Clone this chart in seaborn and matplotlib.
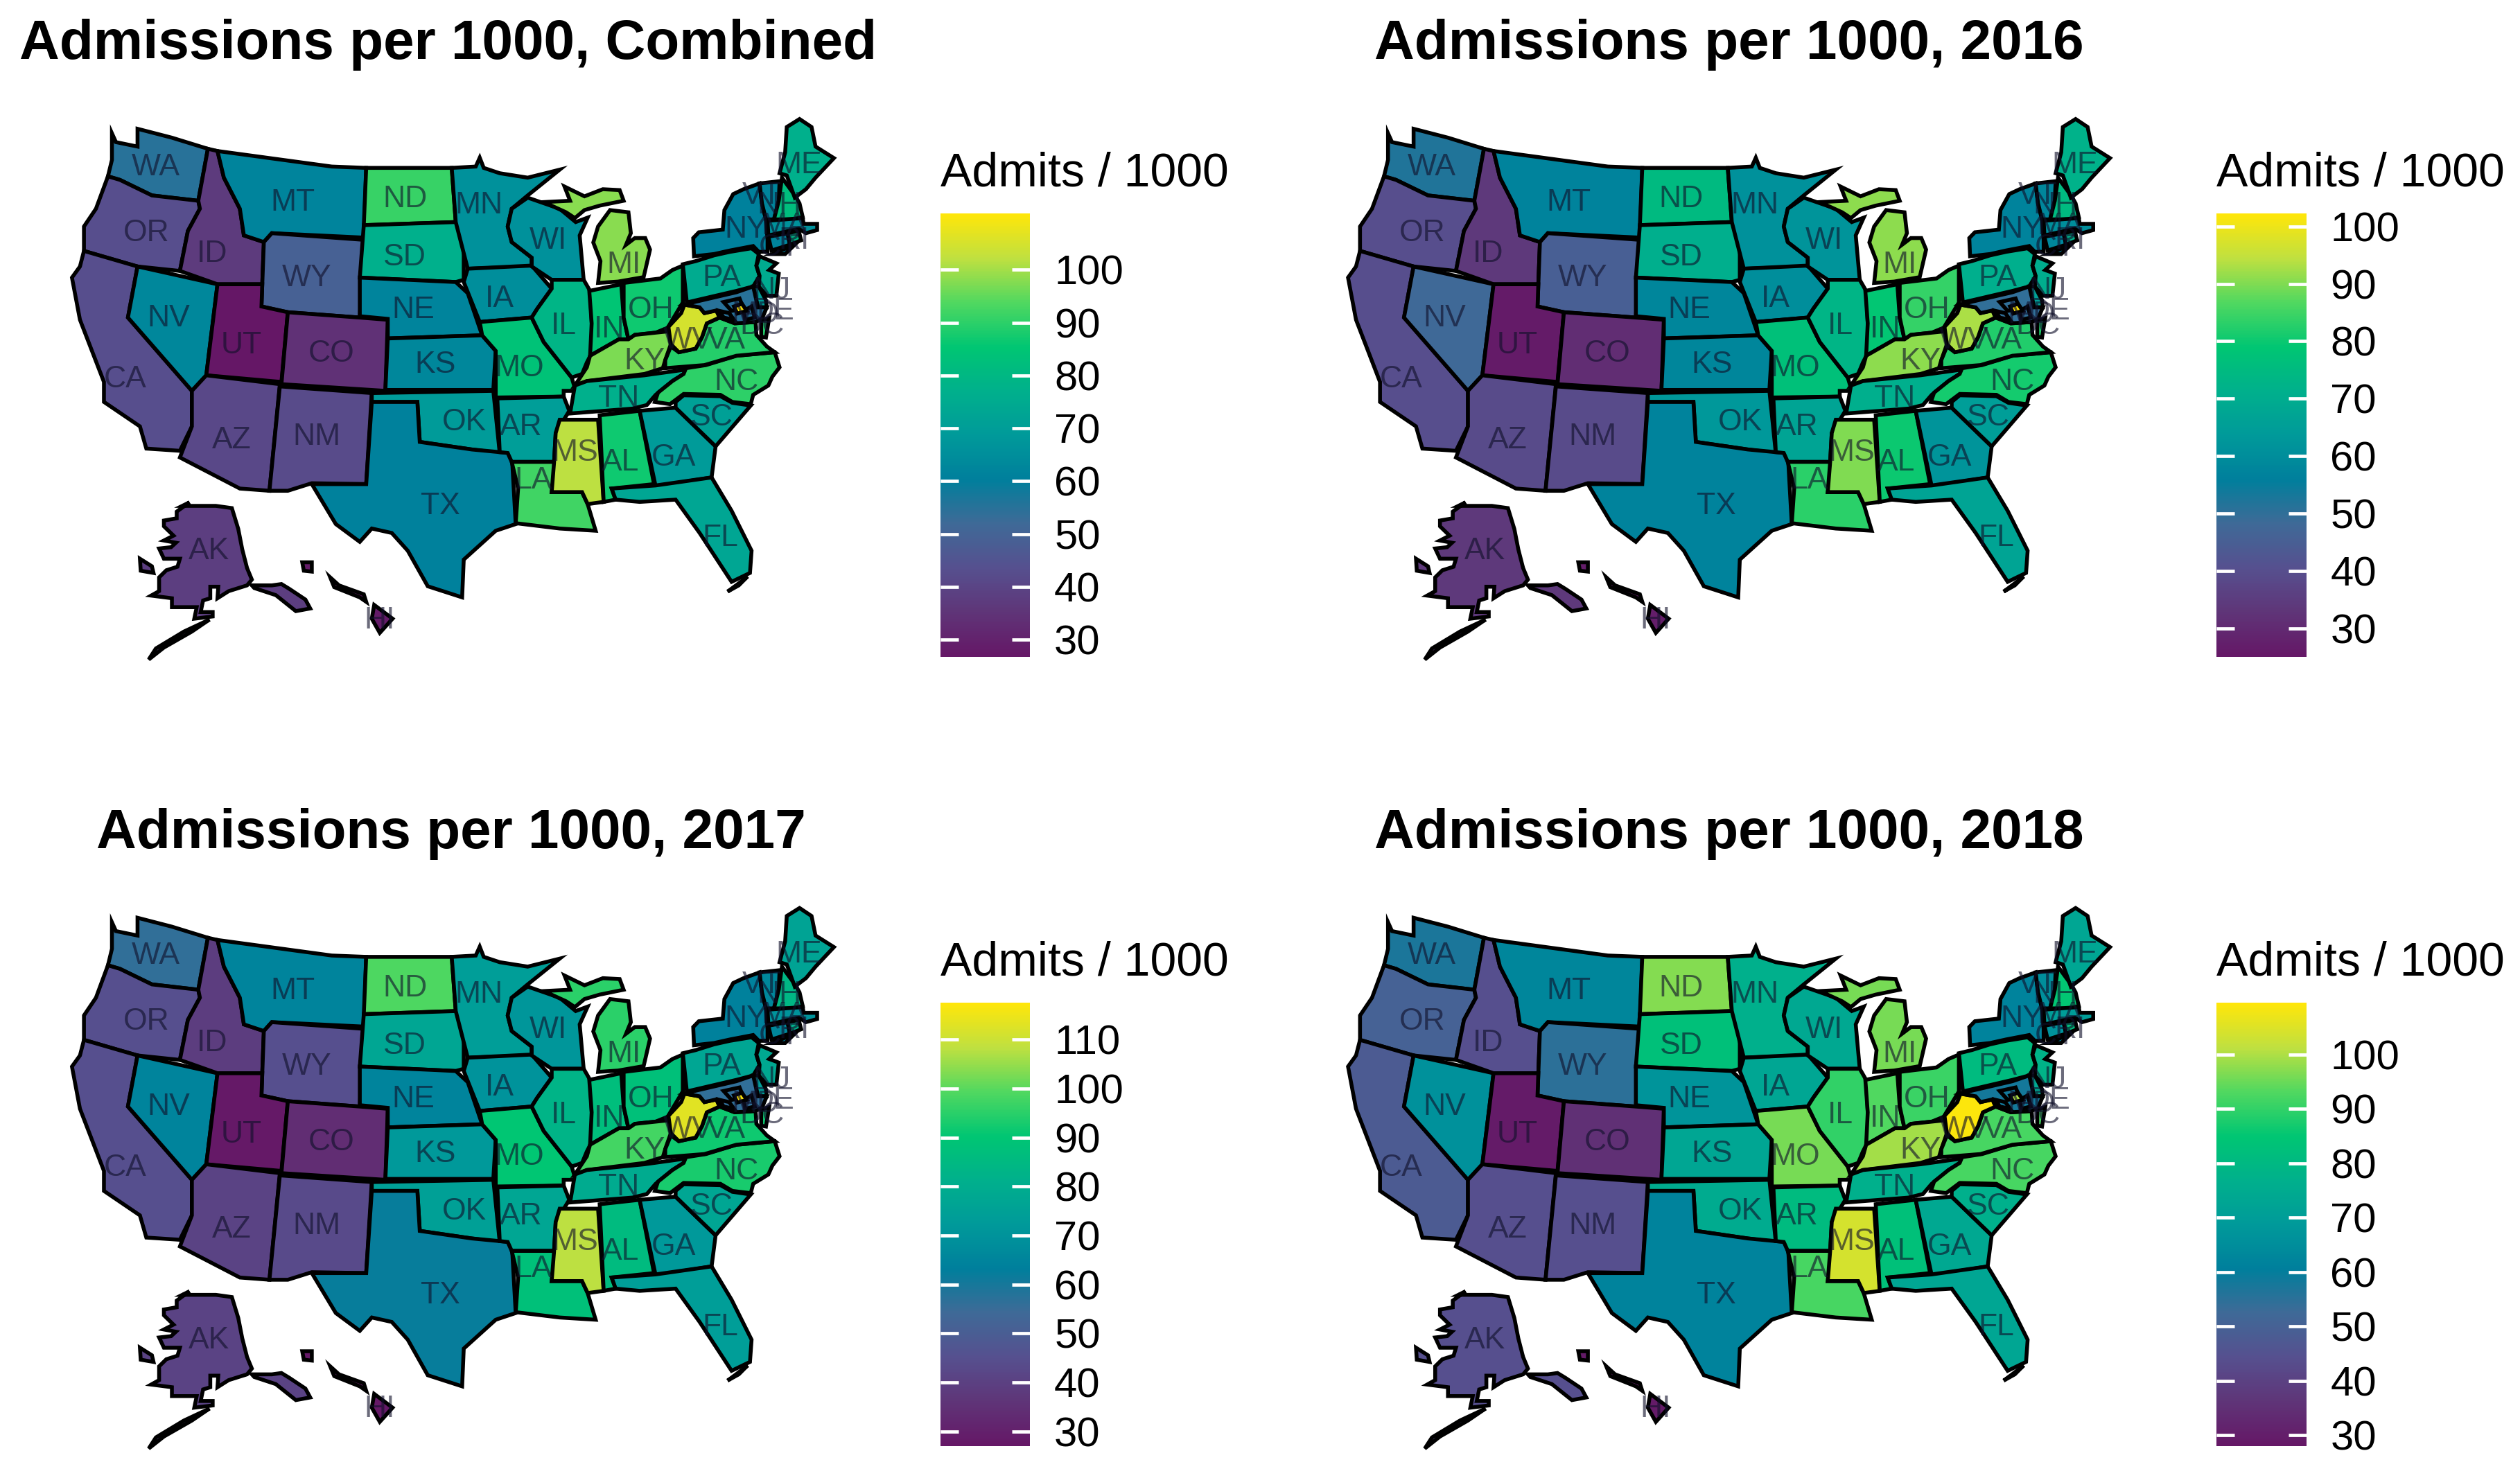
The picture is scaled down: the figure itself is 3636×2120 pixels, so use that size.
import numpy as np
import pandas as pd
import matplotlib
matplotlib.use("Agg")
import matplotlib.pyplot as plt
from matplotlib.cm import ScalarMappable
from matplotlib.colors import Normalize
import seaborn as sns

# state values
STATES = ["WA", "OR", "CA", "NV", "ID", "MT", "WY", "UT", "CO", "AZ", "NM", "ND", "SD", "NE", "KS", "OK", "TX",
          "MN", "IA", "MO", "AR", "LA", "WI", "IL", "IN", "MI", "OH", "KY", "TN", "MS", "AL", "GA", "FL", "SC",
          "NC", "VA", "WV", "PA", "NY", "VT", "NH", "ME", "MA", "CT", "RI", "NJ", "DE", "MD", "DC", "AK", "HI"]
combined = [55, 43, 43, 63, 37, 62, 49, 27, 34, 41, 42, 91, 77, 62, 63, 69, 61,
            66, 65, 84, 70, 92, 66, 79, 85, 98, 87, 97, 77, 102, 87, 69, 73, 71,
            90, 89, 105, 75, 61, 62, 82, 77, 66, 62, 80, 75, 70, 55, 110, 38, 28]
y2016 = [52, 40, 40, 48, 34, 57, 45, 26, 31, 39, 39, 75, 71, 58, 58, 63, 57,
         61, 60, 77, 67, 83, 62, 73, 79, 91, 84, 91, 71, 90, 80, 62, 67, 65,
         81, 82, 93, 71, 57, 58, 75, 72, 60, 58, 72, 70, 66, 50, 102, 34, 27]
y2017 = [56, 45, 45, 65, 39, 65, 45, 28, 34, 41, 43, 99, 77, 65, 72, 75, 62,
         74, 70, 90, 77, 88, 71, 83, 87, 95, 88, 98, 79, 108, 86, 72, 74, 77,
         93, 92, 113, 77, 64, 66, 84, 76, 70, 66, 82, 78, 74, 56, 117, 41, 28]
y2018 = [57, 50, 48, 66, 44, 63, 55, 29, 35, 44, 44, 97, 83, 67, 73, 75, 62,
         77, 73, 96, 81, 92, 74, 90, 93, 96, 91, 99, 77, 104, 83, 74, 73, 77,
         92, 92, 109, 81, 62, 65, 85, 73, 70, 66, 82, 78, 74, 58, 100, 44, 29]

titles = ["Admissions per 1000, Combined", "Admissions per 1000, 2016",
          "Admissions per 1000, 2017", "Admissions per 1000, 2018"]
title_x = [12, 855, 60, 855]
ticks = [[30, 40, 50, 60, 70, 80, 90, 100],
         [30, 40, 50, 60, 70, 80, 90, 100],
         [30, 40, 50, 60, 70, 80, 90, 100, 110],
         [30, 40, 50, 60, 70, 80, 90, 100]]
ranges = [(26.7, 110.6), (25.0, 102.2), (27.0, 117.5), (28.0, 109.5)]

# colours of the legend bar, low to high
ramp = ["#651766", "#5f3578", "#56508f", "#3f6a97", "#007f9c", "#009a9a",
        "#00b08c", "#00c673", "#50d860", "#bfe040", "#ffe60a"]

# state outlines, hand traced (map units)
OUTLINES = {
    "WA": [[(140, 300), (145, 320), (172, 330), (172, 290), (215, 310), (260, 335), (248, 452), (190, 440),
            (150, 405), (135, 397), (140, 360)]],
    "OR": [[(135, 397), (150, 405), (190, 440), (248, 452), (250, 470), (235, 520), (225, 610), (172, 600),
            (105, 565), (105, 510), (120, 470)]],
    "CA": [[(105, 565), (172, 600), (160, 715), (240, 880), (240, 960), (225, 1015), (183, 1010), (175, 960),
            (130, 905), (130, 860), (100, 720), (90, 625), (100, 600)]],
    "NV": [[(172, 600), (272, 640), (258, 845), (240, 880), (160, 715)]],
    "ID": [[(260, 335), (272, 340), (280, 400), (300, 470), (305, 530), (330, 545), (328, 640), (272, 640),
            (225, 610), (235, 520), (250, 470), (248, 452)]],
    "MT": [[(272, 340), (415, 375), (458, 378), (455, 535), (340, 525), (330, 545), (305, 530), (300, 470),
            (280, 400)]],
    "WY": [[(340, 525), (455, 540), (450, 715), (360, 703), (327, 690), (330, 545)]],
    "UT": [[(272, 640), (328, 640), (327, 690), (360, 703), (352, 860), (258, 845)]],
    "CO": [[(360, 703), (450, 715), (485, 720), (482, 880), (352, 865)]],
    "AZ": [[(258, 845), (350, 865), (337, 1105), (300, 1100), (225, 1030), (240, 960), (240, 880)]],
    "NM": [[(350, 870), (465, 885), (458, 1090), (390, 1088), (360, 1105), (337, 1105)]],
    "ND": [[(458, 378), (565, 378), (570, 500), (455, 507)]],
    "SD": [[(455, 507), (570, 500), (580, 525), (580, 630), (570, 635), (450, 625)]],
    "NE": [[(450, 625), (570, 635), (585, 660), (603, 755), (485, 762), (485, 718), (450, 712)]],
    "KS": [[(485, 762), (603, 755), (620, 790), (617, 878), (482, 878)]],
    "OK": [[(465, 885), (617, 880), (625, 1020), (590, 1012), (525, 995), (522, 905), (465, 905)]],
    "TX": [[(465, 905), (522, 905), (525, 995), (590, 1012), (625, 1018), (640, 1020), (645, 1180), (620, 1195),
            (580, 1260), (578, 1345), (535, 1320), (510, 1240), (490, 1200), (465, 1190), (450, 1220), (420, 1180),
            (390, 1090), (458, 1090)]],
    "MN": [[(565, 378), (595, 375), (600, 355), (605, 378), (625, 390), (660, 400), (700, 382), (660, 440),
            (640, 470), (635, 510), (640, 545), (665, 580), (665, 600), (585, 605), (570, 500)]],
    "IA": [[(585, 605), (665, 598), (690, 650), (672, 695), (665, 715), (600, 725), (580, 635)]],
    "MO": [[(600, 725), (665, 715), (680, 770), (715, 850), (720, 880), (705, 880), (705, 893), (620, 895),
            (620, 790), (603, 755)]],
    "AR": [[(622, 897), (705, 893), (712, 925), (695, 975), (693, 1040), (640, 1040), (635, 1020), (625, 1018)]],
    "LA": [[(640, 1040), (695, 1040), (690, 1108), (728, 1108), (735, 1135), (745, 1195), (700, 1190), (645, 1178),
            (648, 1100)]],
    "WI": [[(640, 470), (660, 445), (700, 470), (720, 500), (735, 490), (725, 530), (730, 630), (690, 630),
            (665, 600), (665, 580), (640, 545), (635, 510)]],
    "IL": [[(690, 630), (730, 630), (738, 655), (740, 728), (740, 795), (734, 816), (728, 842), (715, 850),
            (680, 770), (665, 715), (672, 695), (690, 650)]],
    "MI": [[(680, 455), (713, 452), (706, 420), (731, 442), (754, 426), (775, 428), (780, 452), (750, 463), (731, 473),
            (719, 491), (708, 478)],
           [(748, 637), (751, 588), (742, 546), (748, 510), (763, 473), (786, 478), (789, 525), (783, 551),
            (794, 536), (807, 536), (813, 562), (805, 624), (773, 634)]],
    "IN": [[(737, 655), (777, 640), (780, 715), (786, 764), (774, 764), (738, 801), (740, 728)]],
    "OH": [[(780, 637), (826, 627), (841, 608), (854, 598), (854, 681), (835, 738), (820, 749), (794, 754),
            (786, 764), (780, 715)]],
    "KY": [[(738, 801), (774, 764), (786, 764), (794, 754), (820, 749), (836, 746), (839, 775), (832, 811),
            (829, 829), (806, 842), (734, 858), (719, 868), (734, 827)]],
    "TN": [[(719, 868), (734, 858), (806, 845), (858, 832), (855, 842), (841, 858), (820, 889), (809, 912),
            (791, 920), (713, 931)]],
    "MS": [[(700, 945), (748, 945), (755, 1130), (735, 1135), (728, 1108), (690, 1108), (693, 1040), (695, 975)]],
    "AL": [[(750, 935), (800, 925), (818, 1090), (765, 1100), (770, 1125), (755, 1130)]],
    "GA": [[(800, 925), (845, 918), (895, 1005), (890, 1075), (820, 1095)]],
    "FL": [[(765, 1100), (820, 1093), (890, 1075), (915, 1150), (940, 1240), (938, 1290), (915, 1310), (875, 1200),
            (845, 1125), (800, 1130), (770, 1125)],
           [(935, 1298), (924, 1318), (910, 1332), (922, 1316)]],
    "SC": [[(845, 905), (855, 890), (901, 892), (916, 907), (939, 913), (895, 1005), (845, 918)]],
    "NC": [[(883, 822), (921, 801), (969, 793), (975, 827), (966, 848), (961, 868), (942, 889), (939, 910),
            (916, 905), (901, 889), (855, 887), (838, 910), (819, 905), (823, 884), (841, 858), (855, 842),
            (858, 829)]],
    "VA": [[(839, 780), (849, 793), (870, 785), (878, 759), (884, 728), (900, 715), (919, 728), (945, 725),
            (946, 754), (959, 780), (969, 793), (921, 801), (881, 822), (832, 829), (832, 811)],
           [(952, 722), (962, 716), (958, 760), (952, 758)]],
    "WV": [[(856, 686), (875, 692), (881, 705), (896, 699), (900, 715), (884, 728), (878, 759), (870, 785),
            (849, 793), (839, 775), (836, 736), (852, 705)]],
    "PA": [[(854, 595), (870, 588), (893, 575), (913, 567), (940, 559), (949, 572), (946, 598), (950, 621),
            (942, 645), (921, 655), (859, 681)]],
    "NY": [[(868, 577), (867, 536), (874, 523), (904, 517), (906, 473), (917, 437), (930, 426), (950, 413),
            (953, 458), (958, 494), (960, 541), (960, 567), (949, 567), (942, 554), (913, 564), (893, 572)],
           [(966, 572), (994, 551), (982, 572)]],
    "VT": [[(950, 413), (975, 408), (974, 452), (968, 494), (958, 494), (953, 458)]],
    "NH": [[(978, 400), (995, 442), (1000, 458), (1004, 489), (991, 494), (968, 494), (974, 452)]],
    "ME": [[(1000, 268), (984, 286), (982, 343), (975, 390), (984, 395), (994, 445), (1008, 426), (1020, 400),
            (1043, 356), (1020, 330), (1015, 286)]],
    "MA": [[(960, 497), (1004, 491), (1005, 504), (1022, 504), (1022, 518), (1008, 525), (999, 515), (961, 530)]],
    "CT": [[(961, 533), (985, 525), (988, 551), (965, 564)]],
    "RI": [[(985, 525), (999, 520), (1002, 541), (988, 551)]],
    "NJ": [[(950, 577), (971, 593), (962, 608), (974, 616), (971, 666), (959, 666), (949, 645), (950, 621),
            (946, 598)]],
    "DE": [[(942, 645), (949, 645), (958, 676), (959, 692), (948, 692)]],
    "MD": [[(859, 684), (921, 658), (942, 645), (948, 692), (959, 692), (953, 718), (945, 725), (919, 728),
            (900, 715), (896, 699), (881, 705), (875, 692), (856, 686)],
           [(905, 680), (925, 672), (930, 695), (915, 700)],
           [(930, 700), (940, 690), (944, 715), (932, 720)],
           [(900, 700), (912, 705), (918, 720), (905, 715)]],
    "DC": [[(918, 690), (928, 684), (934, 700), (922, 706)]],
    "AK": [[(237, 1131), (228, 1139), (270, 1139), (290, 1144), (298, 1191), (303, 1237), (309, 1279), (315, 1305),
            (309, 1318), (286, 1331), (272, 1347), (273, 1321), (263, 1321), (263, 1347), (254, 1352), (251, 1378),
            (266, 1378), (266, 1388), (243, 1393), (246, 1367), (215, 1367), (215, 1347), (189, 1341), (199, 1331),
            (199, 1300), (208, 1284), (222, 1276), (225, 1258), (205, 1258), (199, 1235), (214, 1232), (220, 1222),
            (205, 1217), (217, 1206), (205, 1185), (205, 1172), (221, 1167), (221, 1152)],
           [(262, 1395), (230, 1422), (195, 1460), (186, 1485), (205, 1458), (240, 1422)],
           [(315, 1318), (340, 1318), (352, 1315), (362, 1326), (382, 1350), (388, 1370), (370, 1376), (345, 1340),
            (318, 1324)],
           [(175, 1258), (190, 1275), (192, 1290), (176, 1285)]],
    "HI": [[(468, 1362), (491, 1393), (475, 1425), (465, 1393)],
           [(413, 1300), (424, 1318), (455, 1338), (458, 1355), (450, 1345), (418, 1322)],
           [(378, 1266), (390, 1266), (390, 1287), (380, 1285)]],
}
OUTLINE_TO_MAP = (0.4975, 0.2764)

# label anchors, same map as the first panel
LABELS = {"WA": (97, 104), "OR": (91, 145), "CA": (78, 236), "NV": (105, 198), "ID": (132, 158), "MT": (182, 126),
          "WY": (191, 173), "UT": (150, 215), "CO": (206, 220), "AZ": (144, 274), "NM": (197, 272), "ND": (252, 124),
          "SD": (252, 160), "NE": (257, 193), "KS": (271, 227), "OK": (289, 263), "TX": (274, 315), "MN": (298, 128),
          "IA": (311, 186), "MO": (323, 229), "AR": (324, 266), "LA": (332, 299), "WI": (341, 150), "IL": (351, 203),
          "IN": (379, 205), "MI": (388, 165), "OH": (405, 193), "KY": (401, 225), "TN": (385, 248), "MS": (358, 282),
          "AL": (386, 288), "GA": (419, 285), "FL": (448, 335), "SC": (443, 260), "NC": (458, 238), "VA": (452, 212),
          "WV": (428, 212), "PA": (449, 173), "NY": (464, 143), "VT": (474, 122), "NH": (485, 128), "ME": (497, 103),
          "MA": (488, 141), "CT": (485, 154), "RI": (494, 150), "NJ": (480, 181), "DE": (481, 194), "MD": (470, 196),
          "DC": (474, 203), "AK": (130, 343), "HI": (236, 386)}

W, H = 1568.0, 914.2  # layout below is in these units
OFFSETS = [(0, 0), (794, 0), (0, 491), (794, 491)]


def box(x0, y0, x1, y1):
    """Figure rectangle from layout units, y measured from the top."""
    return [x0 / W, 1 - y1 / H, (x1 - x0) / W, (y1 - y0) / H]


def draw_map(ax, values, norm, cmap):
    for state, val in zip(STATES, values):
        for part in OUTLINES[state]:
            pts = np.array(part, dtype=float) * OUTLINE_TO_MAP
            ax.fill(pts[:, 0], pts[:, 1], facecolor=cmap(norm(val)), edgecolor="black",
                    linewidth=4.0, joinstyle="miter")
    for state in STATES:
        x, y = LABELS[state]
        ax.text(x, y, state, ha="center", va="center", fontsize=32, color="#10102a", alpha=0.62)
    ax.set_xlim(0, 560)
    ax.set_ylim(420, 60)
    ax.axis("off")


def draw_legend(fig, off, vmin, vmax, tick_vals, cmap):
    ox, oy = off
    cax = fig.add_axes(box(585 + ox, 133 + oy, 641 + ox, 409 + oy))
    sm = ScalarMappable(norm=Normalize(vmin, vmax), cmap=cmap)
    cb = fig.colorbar(sm, cax=cax, ticks=tick_vals)
    cb.outline.set_visible(False)
    cb.ax.tick_params(length=0, pad=25, labelsize=43, labelcolor="black")
    for v in tick_vals:
        cax.plot([0, 0.2], [v, v], color="white", lw=3.4, solid_capstyle="butt", transform=cax.get_yaxis_transform())
        cax.plot([0.8, 1], [v, v], color="white", lw=3.4, solid_capstyle="butt", transform=cax.get_yaxis_transform())
    fig.text((585 + ox) / W, 1 - (108 + oy) / H, "Admits / 1000", fontsize=49, color="black", ha="left", va="center")


sns.set_theme(style="white")
plt.rcParams["font.family"] = ["Liberation Sans", "DejaVu Sans"]
cmap = sns.blend_palette(ramp, n_colors=256, as_cmap=True)

data = pd.DataFrame({"state": STATES, "combined": combined, "2016": y2016, "2017": y2017, "2018": y2018})
columns = ["combined", "2016", "2017", "2018"]

fig = plt.figure(figsize=(36.36, 21.2), dpi=100)
for i, col in enumerate(columns):
    ox, oy = OFFSETS[i]
    ax = fig.add_axes(box(ox, 60 + oy, 560 + ox, 420 + oy))
    vmin, vmax = ranges[i]
    draw_map(ax, data[col], Normalize(vmin, vmax), cmap)
    draw_legend(fig, OFFSETS[i], vmin, vmax, ticks[i], cmap)
    fig.text(title_x[i] / W, 1 - (28 + oy) / H, titles[i], fontsize=57.7, fontweight="bold", color="black",
             ha="left", va="center")

fig.savefig("out.png", dpi=100, facecolor="white")
